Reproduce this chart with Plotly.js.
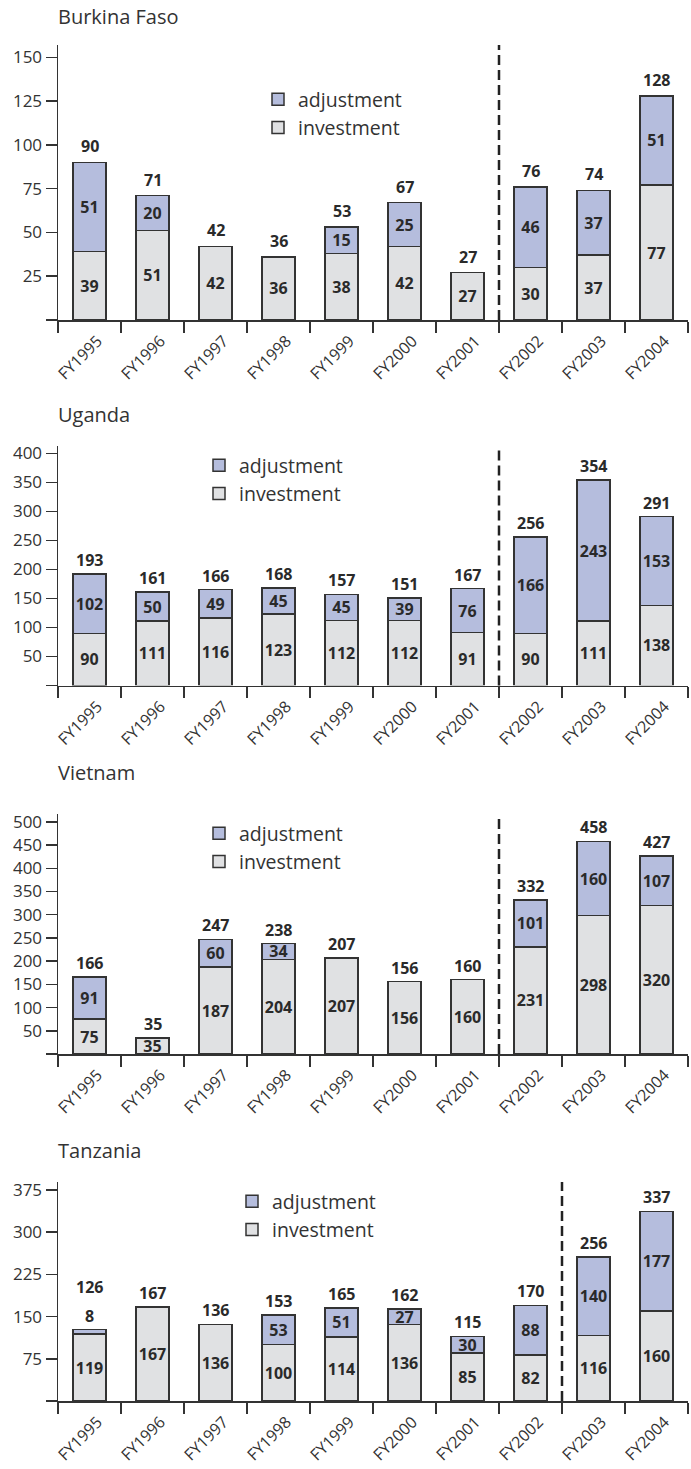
<!DOCTYPE html>
<html>
<head>
<meta charset="utf-8">
<script src="https://cdn.plot.ly/plotly-3.0.1.min.js"></script>
<style>
  html, body { margin: 0; padding: 0; background: #ffffff; }
  #chart { width: 691px; height: 1469px; }
</style>
</head>
<body>
<div id="chart"></div>
<script>
// ---------- DATA ----------
const years = ['FY1995', 'FY1996', 'FY1997', 'FY1998', 'FY1999', 'FY2000', 'FY2001', 'FY2002', 'FY2003', 'FY2004'];
const countries = ['Burkina Faso', 'Uganda', 'Vietnam', 'Tanzania'];

const burkinaInvestment = [39, 51, 42, 36, 38, 42, 27, 30, 37, 77];
const burkinaAdjustment = [51, 20, 0, 0, 15, 25, 0, 46, 37, 51];
const burkinaTotal      = [90, 71, 42, 36, 53, 67, 27, 76, 74, 128];

const ugandaInvestment = [90, 111, 116, 123, 112, 112, 91, 90, 111, 138];
const ugandaAdjustment = [102, 50, 49, 45, 45, 39, 76, 166, 243, 153];
const ugandaTotal      = [193, 161, 166, 168, 157, 151, 167, 256, 354, 291];

const vietnamInvestment = [75, 35, 187, 204, 207, 156, 160, 231, 298, 320];
const vietnamAdjustment = [91, 0, 60, 34, 0, 0, 0, 101, 160, 107];
const vietnamTotal      = [166, 35, 247, 238, 207, 156, 160, 332, 458, 427];

const tanzaniaInvestment = [119, 167, 136, 100, 114, 136, 85, 82, 116, 160];
const tanzaniaAdjustment = [8, 0, 0, 53, 51, 27, 30, 88, 140, 177];
const tanzaniaTotal      = [126, 167, 136, 153, 165, 162, 115, 170, 256, 337];

const burkinaTicks  = [0, 25, 50, 75, 100, 125, 150];
const ugandaTicks   = [0, 50, 100, 150, 200, 250, 300, 350, 400];
const vietnamTicks  = [0, 50, 100, 150, 200, 250, 300, 350, 400, 450, 500];
const tanzaniaTicks = [0, 75, 150, 225, 300, 375];

// first fiscal year after the dashed divider, per country
const dividerBefore = ['FY2002', 'FY2002', 'FY2002', 'FY2003'];

// ---------- LAYOUT / STYLE ----------
const W = 691, H = 1469;
const FONT = '"Open Sans", "Noto Sans", sans-serif';
const C_ADJ = '#b5bddd', C_INV = '#e0e1e3', C_EDGE = '#333333', C_TEXT = '#2a2a2a';
const NUM_SIZE = 16;

const panels = [
  { inv: burkinaInvestment, adj: burkinaAdjustment, tot: burkinaTotal, ticks: burkinaTicks,
    topPx: 45, botPx: 320, yMax: 157, titlePx: 17, legX: 258, legY: 80, totShift: 16 },
  { inv: ugandaInvestment, adj: ugandaAdjustment, tot: ugandaTotal, ticks: ugandaTicks,
    topPx: 446, botPx: 685.5, yMax: 412.6, titlePx: 414, legX: 199, legY: 446, totShift: 14 },
  { inv: vietnamInvestment, adj: vietnamAdjustment, tot: vietnamTotal, ticks: vietnamTicks,
    topPx: 814, botPx: 1054, yMax: 517, titlePx: 772, legX: 199, legY: 814, totShift: 14 },
  { inv: tanzaniaInvestment, adj: tanzaniaAdjustment, tot: tanzaniaTotal, ticks: tanzaniaTicks,
    topPx: 1182, botPx: 1401, yMax: 389, titlePx: 1150, legX: 232, legY: 1182, totShift: 14 }
];

const ML = 58, MR = 3;
const plotW = W - ML - MR;
const py = px => 1 - px / H;

const data = [];
const layout = {
  width: W, height: H,
  margin: { l: ML, r: MR, t: 0, b: 0 },
  paper_bgcolor: '#ffffff', plot_bgcolor: 'rgba(0,0,0,0)',
  font: { family: FONT, color: '#333333' },
  barmode: 'stack', bargap: 0.48,
  showlegend: true,
  annotations: [], shapes: []
};

panels.forEach((p, i) => {
  const n = i === 0 ? '' : String(i + 1);
  const xa = 'x' + n, ya = 'y' + n;
  const legName = 'legend' + n;
  const pxPerUnit = (p.botPx - p.topPx) / p.yMax;

  const adjOutside = p.adj.map(v => v > 0 && v * pxPerUnit < 10);
  const numFont = { family: FONT, size: NUM_SIZE, color: C_TEXT, weight: 'bold' };

  data.push({
    type: 'bar', name: 'investment', x: years, y: p.inv,
    xaxis: xa, yaxis: ya, legend: legName, legendgroup: 'inv' + i,
    marker: { color: C_INV, line: { color: C_EDGE, width: 1.5 } },
    text: p.inv.map(v => v > 0 ? String(v) : ''),
    textposition: 'inside', insidetextanchor: 'middle', textangle: 0,
    constraintext: 'none', insidetextfont: numFont,
    hoverinfo: 'skip'
  });
  data.push({
    type: 'bar', name: 'adjustment', x: years, y: p.adj,
    xaxis: xa, yaxis: ya, legend: legName, legendgroup: 'adj' + i,
    marker: { color: C_ADJ, line: { color: C_EDGE, width: 1.5 } },
    text: p.adj.map(v => v > 0 ? String(v) : ''),
    textposition: adjOutside.map(o => o ? 'outside' : 'inside'),
    insidetextanchor: 'middle', textangle: 0, constraintext: 'none', cliponaxis: false,
    insidetextfont: numFont, outsidetextfont: numFont,
    hoverinfo: 'skip'
  });

  layout['xaxis' + n] = {
    type: 'category', anchor: ya, domain: [0, 1], range: [-0.5, years.length - 0.5],
    tickson: 'boundaries', ticks: 'outside', ticklen: 11, tickwidth: 1.5, tickcolor: C_EDGE,
    showline: true, linecolor: C_EDGE, linewidth: 1.5, showgrid: false, zeroline: false,
    tickangle: -45, ticklabelshift: 8, ticklabelstandoff: 4,
    tickfont: { family: FONT, size: 16, color: '#333333' }, fixedrange: true
  };
  layout['yaxis' + n] = {
    anchor: xa, domain: [py(p.botPx), py(p.topPx)], range: [0, p.yMax],
    tickmode: 'array', tickvals: p.ticks, ticktext: p.ticks.map(v => v === 0 ? '' : String(v)),
    ticks: 'outside', ticklen: 11, tickwidth: 1.5, tickcolor: C_EDGE,
    showline: true, linecolor: C_EDGE, linewidth: 1.5, showgrid: false, zeroline: false,
    tickfont: { family: FONT, size: 17, color: '#333333' }, fixedrange: true
  };
  layout[legName] = {
    x: (p.legX - ML) / plotW, y: py(p.legY), xanchor: 'left', yanchor: 'top',
    xref: 'paper', yref: 'paper',
    traceorder: 'reversed', bgcolor: 'rgba(0,0,0,0)', borderwidth: 0,
    font: { family: FONT, size: 19.5, color: '#333333' }, tracegroupgap: 2
  };

  // country title
  layout.annotations.push({
    text: countries[i], xref: 'paper', yref: 'paper', x: 0, y: py(p.titlePx),
    xanchor: 'left', yanchor: 'middle', showarrow: false, xshift: -2,
    font: { family: FONT, size: 20, color: '#333333' }
  });

  // totals above bars
  years.forEach((yr, k) => {
    layout.annotations.push({
      text: String(p.tot[k]), xref: xa, yref: ya, x: yr, y: p.inv[k] + p.adj[k],
      xanchor: 'center', yanchor: 'middle', showarrow: false,
      yshift: p.totShift + (adjOutside[k] ? 29 : 0),
      font: numFont
    });
  });

  // dashed divider
  const dIdx = years.indexOf(dividerBefore[i]) - 0.5;
  layout.shapes.push({
    type: 'line', xref: xa, yref: ya + ' domain', x0: dIdx, x1: dIdx, y0: 0, y1: 1,
    line: { color: '#222222', width: 2.5, dash: '10px,5px' }
  });
});

Plotly.newPlot('chart', data, layout, { staticPlot: true, displayModeBar: false });
</script>
</body>
</html>
